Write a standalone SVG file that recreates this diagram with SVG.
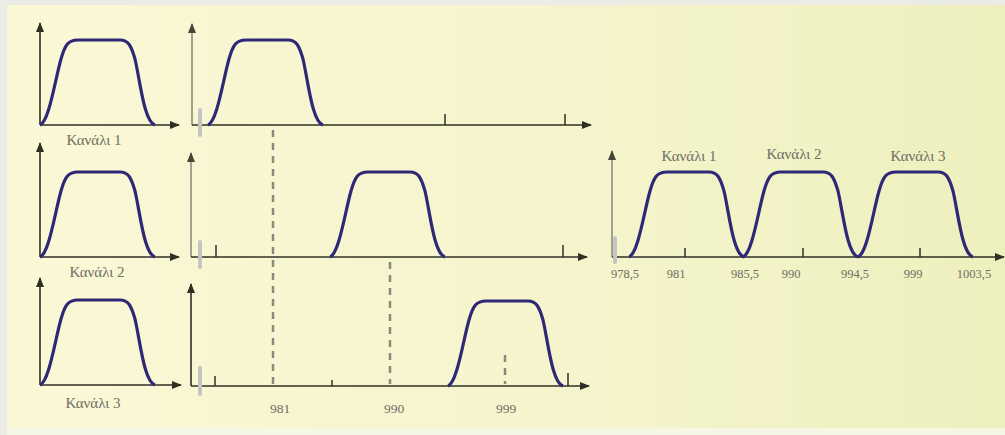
<svg xmlns="http://www.w3.org/2000/svg" xmlns:xlink="http://www.w3.org/1999/xlink" width="1005" height="435" viewBox="0 0 1005 435">
<defs>
<linearGradient id="bg" x1="0" y1="0" x2="1" y2="0">
<stop offset="0" stop-color="#fbf8d6"/>
<stop offset="0.6" stop-color="#f5f4cc"/>
<stop offset="1" stop-color="#edf0bd"/>
</linearGradient>
<marker id="arr" viewBox="0 0 10 8" refX="9" refY="4" markerWidth="10" markerHeight="8" markerUnits="userSpaceOnUse" orient="auto">
<path d="M0,0 L10,4 L0,8 z" fill="#2f2f24"/>
</marker>
<marker id="arrg" viewBox="0 0 10 8" refX="9" refY="4" markerWidth="10" markerHeight="8" markerUnits="userSpaceOnUse" orient="auto">
<path d="M0,0 L10,4 L0,8 z" fill="#444438"/>
</marker>
<path id="pulse" d="M0 0 C 9 -3, 15 -45, 21 -66 C 25 -80, 28 -85, 38 -85 L 80 -85 C 88 -85, 91 -80, 95 -66 C 100 -45, 104 -3, 115 0"/>
<style>
.ax{stroke:#2f2f24;stroke-width:1.6;fill:none}
.axg{stroke:#8c8c80;stroke-width:1.6;fill:none}
.tick{stroke:#2f2f24;stroke-width:1.5}
.gm{stroke:#c4c4c0;stroke-width:4;stroke-linecap:round}
.pl{fill:none;stroke:#2e2876;stroke-width:3.2;stroke-linejoin:round}
.dash{stroke:#8a8a7c;stroke-width:2.5;stroke-dasharray:7 6}
.lbl{font-family:"Liberation Serif","Times New Roman",serif;font-size:15px;fill:#6e6e66}
.num{font-family:"Liberation Serif","Times New Roman",serif;font-size:12.5px;fill:#6e6e66}
.numb{font-family:"Liberation Serif","Times New Roman",serif;font-size:13.5px;fill:#6e6e66}
</style>
</defs>
<rect x="0" y="0" width="1005" height="435" fill="#ececE6"/>
<rect x="7" y="5" width="998" height="423" fill="url(#bg)"/>
<rect x="7" y="428" width="998" height="7" fill="#f6f6e4"/>

<g id="connectors">
<line class="dash" x1="273" y1="130" x2="273" y2="384"/>
<line class="dash" x1="390" y1="262" x2="390" y2="384"/>
<line class="dash" x1="505" y1="355" x2="505" y2="384"/>
</g>

<g id="channel1">
<line class="ax" x1="40" y1="125" x2="40" y2="23" marker-end="url(#arr)"/>
<line class="ax" x1="40" y1="125" x2="179" y2="125" marker-end="url(#arr)"/>
<use href="#pulse" x="40" y="125" class="pl"/>
<text class="lbl" x="94" y="145" text-anchor="middle">Κανάλι 1</text>
</g>
<g id="mod1">
<line class="axg" x1="192" y1="125" x2="192" y2="24" marker-end="url(#arrg)"/>
<line class="ax" x1="192" y1="125" x2="591" y2="125" marker-end="url(#arr)"/>
<line class="gm" x1="200" y1="110" x2="200" y2="135"/>
<line class="tick" x1="445" y1="114" x2="445" y2="125"/>
<line class="tick" x1="565" y1="114" x2="565" y2="125"/>
<use href="#pulse" x="208" y="125" class="pl"/>
</g>

<g id="channel2">
<line class="ax" x1="40" y1="257" x2="40" y2="143" marker-end="url(#arr)"/>
<line class="ax" x1="40" y1="257" x2="179" y2="257" marker-end="url(#arr)"/>
<use href="#pulse" x="40" y="257" class="pl"/>
<text class="lbl" x="97" y="277" text-anchor="middle">Κανάλι 2</text>
</g>
<g id="mod2">
<line class="axg" x1="191" y1="257" x2="191" y2="153" marker-end="url(#arrg)"/>
<line class="ax" x1="191" y1="257" x2="587" y2="257" marker-end="url(#arr)"/>
<line class="gm" x1="200" y1="242" x2="200" y2="267"/>
<line class="tick" x1="216" y1="245" x2="216" y2="257"/>
<line class="tick" x1="563" y1="245" x2="563" y2="257"/>
<use href="#pulse" x="330" y="257" class="pl"/>
</g>

<g id="channel3">
<line class="ax" x1="40" y1="385" x2="40" y2="278" marker-end="url(#arr)"/>
<line class="ax" x1="40" y1="385" x2="181" y2="385" marker-end="url(#arr)"/>
<use href="#pulse" x="40" y="385" class="pl"/>
<text class="lbl" x="93" y="408" text-anchor="middle">Κανάλι 3</text>
</g>
<g id="mod3">
<line class="ax" x1="191" y1="386" x2="191" y2="284" marker-end="url(#arr)"/>
<line class="ax" x1="191" y1="386" x2="589" y2="386" marker-end="url(#arr)"/>
<line class="gm" x1="200" y1="368" x2="200" y2="394"/>
<line class="tick" x1="215" y1="376" x2="215" y2="386"/>
<line class="tick" x1="332" y1="380" x2="332" y2="386"/>
<line class="tick" x1="568" y1="373" x2="568" y2="386"/>
<use href="#pulse" x="448" y="386" class="pl"/>
<text class="numb" x="280" y="413" text-anchor="middle">981</text>
<text class="numb" x="394" y="413" text-anchor="middle">990</text>
<text class="numb" x="506" y="413" text-anchor="middle">999</text>
</g>

<g id="multiplex">
<line class="axg" x1="612" y1="257" x2="612" y2="151" marker-end="url(#arrg)"/>
<line class="ax" x1="612" y1="257" x2="1004" y2="257" marker-end="url(#arr)"/>
<line class="gm" x1="615" y1="238" x2="615" y2="262"/>
<line class="tick" x1="685" y1="248" x2="685" y2="257"/>
<line class="tick" x1="803" y1="248" x2="803" y2="257"/>
<line class="tick" x1="920" y1="248" x2="920" y2="257"/>
<use href="#pulse" x="629" y="257" class="pl"/>
<use href="#pulse" x="743" y="257" class="pl"/>
<use href="#pulse" x="858" y="257" class="pl"/>
<text class="lbl" x="689" y="161" text-anchor="middle">Κανάλι 1</text>
<text class="lbl" x="794" y="159" text-anchor="middle">Κανάλι 2</text>
<text class="lbl" x="918" y="161" text-anchor="middle">Κανάλι 3</text>
<text class="num" x="625" y="278" text-anchor="middle">978,5</text>
<text class="num" x="676" y="278" text-anchor="middle">981</text>
<text class="num" x="745" y="278" text-anchor="middle">985,5</text>
<text class="num" x="791" y="278" text-anchor="middle">990</text>
<text class="num" x="855" y="278" text-anchor="middle">994,5</text>
<text class="num" x="913" y="278" text-anchor="middle">999</text>
<text class="num" x="974" y="278" text-anchor="middle">1003,5</text>
</g>
</svg>
